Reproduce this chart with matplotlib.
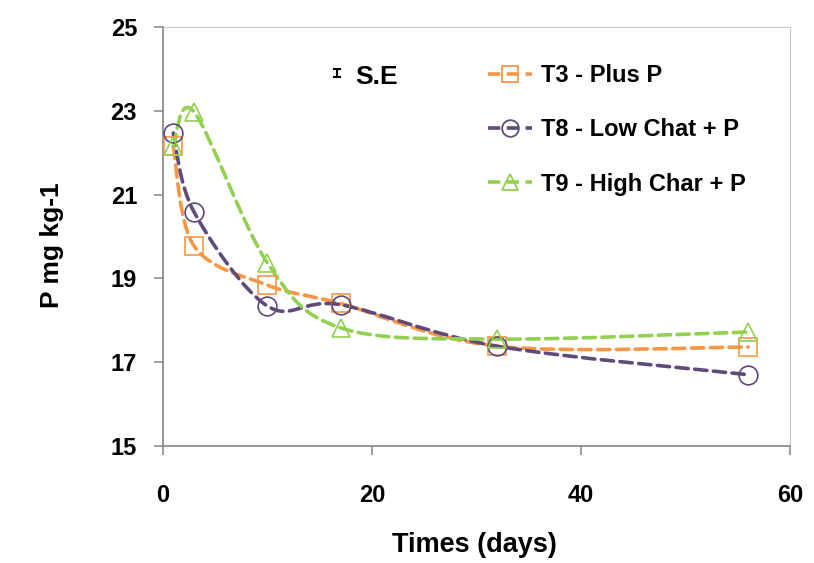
#!/usr/bin/env python3
"""P concentration vs time for three treatments (smoothed Excel-style lines)."""
import matplotlib
matplotlib.use("Agg")
import matplotlib.pyplot as plt
from matplotlib.lines import Line2D
from matplotlib.path import Path
from matplotlib.patches import PathPatch

DAYS = [1, 3, 10, 17, 32, 56]
T3_PLUS_P = [22.15, 19.77, 18.84, 18.40, 17.38, 17.36]
T8_LOW_CHAT = [22.47, 20.58, 18.34, 18.37, 17.38, 16.70]
T9_HIGH_CHAR = [22.15, 22.97, 19.37, 17.82, 17.55, 17.72]

SERIES = [
    ("T3 - Plus P", T3_PLUS_P, "#F79646", "s"),
    ("T8 - Low Chat + P", T8_LOW_CHAT, "#604A7B", "o"),
    ("T9 - High Char + P", T9_HIGH_CHAR, "#92D050", "^"),
]

FONT = ["Liberation Sans", "DejaVu Sans"]
DASH = (0, (3.4, 1.8))


def smooth_path(xs, ys):
    """Cubic Bezier path through the points, Catmull-Rom tangents like Excel."""
    verts = [(xs[0], ys[0])]
    codes = [Path.MOVETO]
    n = len(xs)
    for i in range(n - 1):
        x0, y0 = (xs[i - 1], ys[i - 1]) if i > 0 else (xs[i], ys[i])
        x1, y1 = xs[i], ys[i]
        x2, y2 = xs[i + 1], ys[i + 1]
        x3, y3 = (xs[i + 2], ys[i + 2]) if i + 2 < n else (x2, y2)
        c1 = (x1 + (x2 - x0) / 6.0, y1 + (y2 - y0) / 6.0)
        c2 = (x2 - (x3 - x1) / 6.0, y2 - (y3 - y1) / 6.0)
        verts += [c1, c2, (x2, y2)]
        codes += [Path.CURVE4] * 3
    return Path(verts, codes)


def main():
    plt.rcParams["font.family"] = FONT
    plt.rcParams["font.weight"] = "bold"
    fig = plt.figure(figsize=(8.14, 5.63), dpi=100)
    ax = fig.add_axes([0.2, 0.208, 0.7705, 0.744])

    handles = []
    for label, ys, color, marker in SERIES:
        patch = PathPatch(smooth_path(DAYS, ys), facecolor="none",
                          edgecolor=color, linewidth=2.6, linestyle=DASH,
                          capstyle="round", zorder=2)
        ax.add_patch(patch)
        ax.plot(DAYS, ys, linestyle="none", marker=marker, markersize=13.5,
                markerfacecolor="none", markeredgecolor=color,
                markeredgewidth=1.2, zorder=3)
        handles.append(Line2D([], [], color=color, linewidth=2.6,
                              linestyle=DASH, marker=marker,
                              markersize=12, markerfacecolor="none",
                              markeredgewidth=1.3, markeredgecolor=color,
                              label=label))

    ax.set_xlim(0, 60)
    ax.set_ylim(15, 25)
    ax.set_xticks([0, 20, 40, 60])
    ax.set_yticks([15, 17, 19, 21, 23, 25])
    for s in ("left", "bottom"):
        ax.spines[s].set_color("#8c8c8c")
        ax.spines[s].set_linewidth(1.3)
    for s in ("top", "right"):
        ax.spines[s].set_color("#c8c8c8")
        ax.spines[s].set_linewidth(0.8)
    ax.tick_params(direction="out", length=6.5, width=1.2, color="#8c8c8c",
                   labelsize=17)
    ax.tick_params(axis="y", pad=12)
    ax.tick_params(axis="x", pad=21)
    for t in ax.get_xticklabels() + ax.get_yticklabels():
        t.set_fontweight("bold")

    ax.set_xlabel("Times (days)", fontsize=19.5, fontweight="bold")
    ax.set_ylabel("P mg kg-1", fontsize=19, fontweight="bold")
    ax.xaxis.set_label_coords(0.497, -0.205)
    ax.yaxis.set_label_coords(-0.157, 0.479)

    # standard-error key glyph
    ax.errorbar([0.2775], [0.89], yerr=[0.009], transform=ax.transAxes,
                color="black", linewidth=1.5, capsize=3, capthick=1.5,
                clip_on=False)
    ax.text(0.306, 0.881, "S.E", transform=ax.transAxes, fontsize=19,
            fontweight="bold", ha="left", va="center")

    leg = ax.legend(handles=handles, loc="upper left",
                    bbox_to_anchor=(0.518, 0.912), frameon=False,
                    borderpad=0, borderaxespad=0, labelspacing=1.33,
                    handlelength=1.86, handletextpad=0.38,
                    prop={"weight": "bold", "size": 17,
                          "family": FONT})
    for t in leg.get_texts():
        t.set_fontweight("bold")

    fig.savefig("out.png", dpi=100)
    plt.close(fig)


if __name__ == "__main__":
    main()
